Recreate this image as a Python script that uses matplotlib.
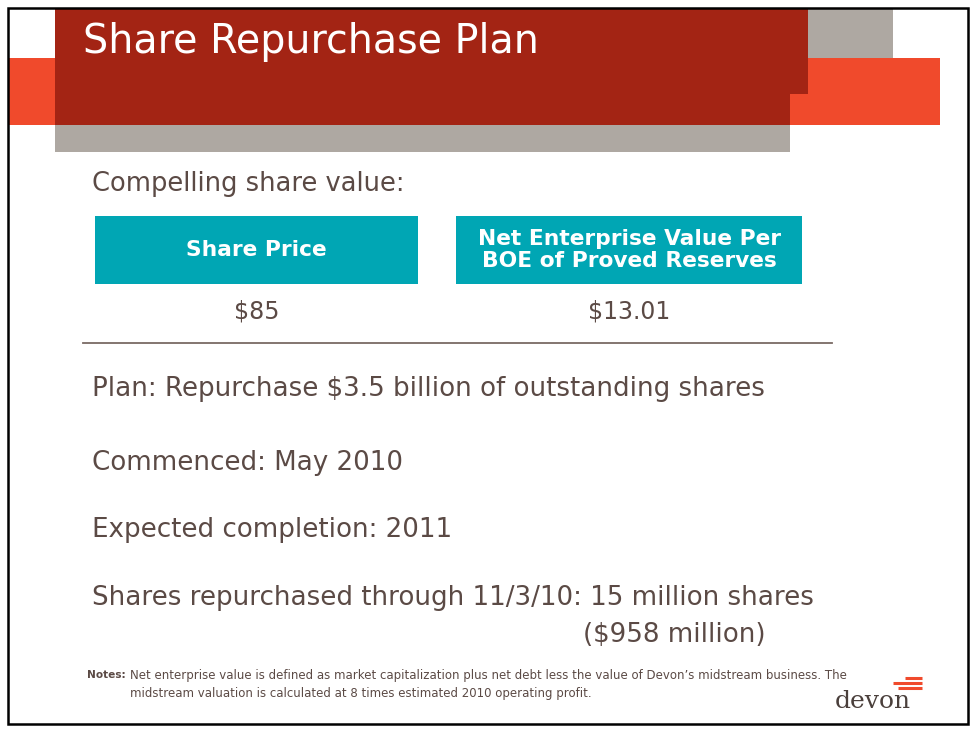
import matplotlib.pyplot as plt
from matplotlib.patches import Rectangle

title = "Share Repurchase Plan"
intro = "Compelling share value:"
box_labels = ["Share Price", "Net Enterprise Value Per\nBOE of Proved Reserves"]
box_values = ["$85", "$13.01"]
bullets = [
    "Plan: Repurchase $3.5 billion of outstanding shares",
    "Commenced: May 2010",
    "Expected completion: 2011",
    "Shares repurchased through 11/3/10: 15 million shares",
]
bullet_tail = "($958 million)"
notes = [
    "Net enterprise value is defined as market capitalization plus net debt less the value of Devon\u2019s midstream business. The",
    "midstream valuation is calculated at 8 times estimated 2010 operating profit.",
]

TXT = "#5B4A45"
TEAL = "#00A6B4"
DARK = "#A32414"
ORANGE = "#F04A2C"
GREY = "#AEA8A2"

fig = plt.figure(figsize=(9.78, 7.4), dpi=100)
ax = fig.add_axes([0, 0, 1, 1])
ax.set_xlim(0, 978)
ax.set_ylim(740, 0)
ax.axis("off")

def rect(x0, y0, x1, y1, **kw):
    ax.add_patch(Rectangle((x0, y0), x1 - x0, y1 - y0, **kw))

# header blocks
rect(55, 125, 790, 152, color=GREY, lw=0)
rect(8, 58, 55, 125, color=ORANGE, lw=0)
rect(790, 58, 940, 125, color=ORANGE, lw=0)
rect(808, 8, 893, 58, color=GREY, lw=0)
rect(55, 8, 808, 94, color=DARK, lw=0)
rect(55, 94, 790, 125, color=DARK, lw=0)
ax.text(83, 42, title, color="white", fontsize=28.5, va="center", ha="left")

# outer border
rect(8, 8, 968, 724, fill=False, ec="black", lw=1.8)

ax.text(92, 184, intro, color=TXT, fontsize=18.5, va="center")

boxes = [(95, 418), (456, 802)]
for (x0, x1), lab, val in zip(boxes, box_labels, box_values):
    rect(x0, 216, x1, 284, color=TEAL, lw=0)
    ax.text((x0 + x1) / 2, 250, lab, color="white", fontsize=15.7, fontweight="bold",
            ha="center", va="center", linespacing=1.1)
    ax.text((x0 + x1) / 2, 311, val, color=TXT, fontsize=17, ha="center", va="center")

ax.plot([83, 832], [343, 343], color="#7A6A64", lw=1.3)

for y, line in zip([389, 463, 530, 598], bullets):
    ax.text(92, y, line, color=TXT, fontsize=18.8, va="center")
ax.text(583, 635, bullet_tail, color=TXT, fontsize=18.8, va="center")

ax.text(87, 675, "Notes:", color=TXT, fontsize=7.6, fontweight="bold", va="center")
ax.text(130, 675, notes[0], color=TXT, fontsize=8.5, va="center")
ax.text(130, 694, notes[1], color=TXT, fontsize=8.5, va="center")

# devon logo
for i, (x0, x1) in enumerate([(905, 922), (893, 922), (898, 922)]):
    ax.plot([x0, x1], [678 + i * 5, 678 + i * 5], color=ORANGE, lw=2.2, solid_capstyle="butt")
ax.text(873, 701, "devon", color="#4A3F3B", fontsize=18, family="DejaVu Serif",
        ha="center", va="center")

fig.savefig("out.png", dpi=100)
